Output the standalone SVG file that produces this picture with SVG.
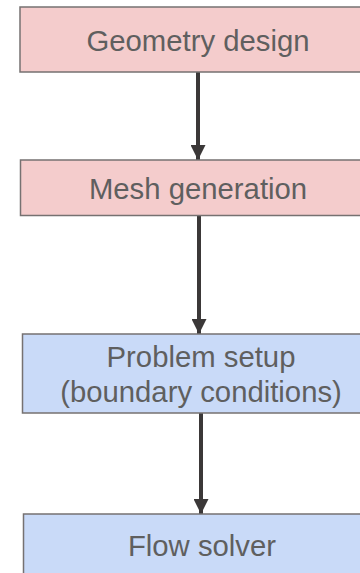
<svg xmlns="http://www.w3.org/2000/svg" width="360" height="573" viewBox="0 0 360 573">
  <style>
    .box { stroke: #767171; stroke-width: 1.5; }
    .pink { fill: #f4cccc; }
    .blue { fill: #c9daf8; }
    .label { font-family: "Liberation Sans", Arial, sans-serif; font-size: 29.3px; fill: #5f5f5f; text-anchor: middle; }
    .edge { stroke: #3b3838; stroke-width: 4; fill: none; }
  </style>
  <defs>
    <marker id="arrow" viewBox="0 0 10 10" refX="10" refY="5" markerUnits="userSpaceOnUse" markerWidth="15" markerHeight="15" orient="auto">
      <path d="M0,0 L10,5 L0,10 Z" fill="#3b3838"/>
    </marker>
  </defs>
  <rect width="360" height="573" fill="#ffffff"/>

  <g id="connectors">
    <line class="edge" x1="198" y1="72" x2="198" y2="160" marker-end="url(#arrow)"/>
    <line class="edge" x1="199" y1="216" x2="199" y2="334" marker-end="url(#arrow)"/>
    <line class="edge" x1="201" y1="413" x2="201" y2="514" marker-end="url(#arrow)"/>
  </g>

  <g id="geometry-design">
    <rect class="box pink" x="20" y="7" width="356" height="65"/>
    <text class="label" x="198" y="51">Geometry design</text>
  </g>

  <g id="mesh-generation">
    <rect class="box pink" x="20.5" y="160" width="356" height="55.5"/>
    <text class="label" x="198" y="199">Mesh generation</text>
  </g>

  <g id="problem-setup">
    <rect class="box blue" x="22.5" y="334" width="356" height="79"/>
    <text class="label" x="201" y="367">Problem setup</text>
    <text class="label" x="201" y="402">(boundary conditions)</text>
  </g>

  <g id="flow-solver">
    <rect class="box blue" x="23.5" y="514" width="356" height="80"/>
    <text class="label" x="202" y="556">Flow solver</text>
  </g>
</svg>
